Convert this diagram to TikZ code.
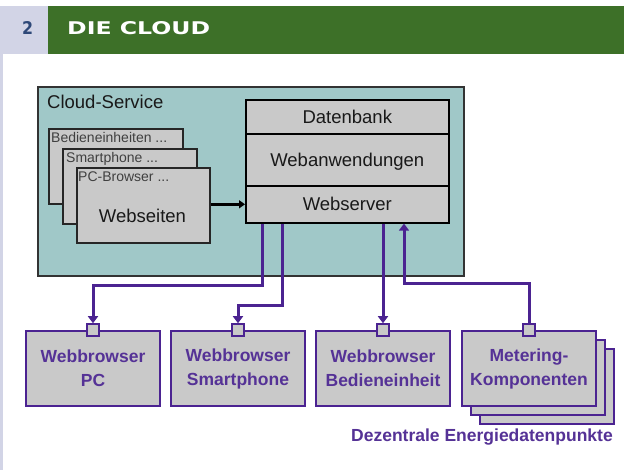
\documentclass[tikz,border=0pt]{standalone}
\usepackage{fontspec}
\usepackage{graphicx}
\setmainfont{Liberation Sans}
\newfontfamily\headfont{DejaVu Sans}
\usetikzlibrary{arrows.meta}
\definecolor{hgreen}{RGB}{61,112,40}
\definecolor{hlav}{RGB}{210,212,230}
\definecolor{hnum}{RGB}{46,72,120}
\definecolor{cloudfill}{RGB}{160,200,200}
\definecolor{boxgray}{RGB}{201,201,201}
\definecolor{purp}{RGB}{75,35,145}
\definecolor{purptext}{RGB}{85,50,150}
\begin{document}
\begin{tikzpicture}[x=1pt,y=-1pt,
  bigtxt/.style={font=\fontsize{18.5}{22}\selectfont, text=black!90},
  smalltxt/.style={font=\fontsize{14}{16}\selectfont, text=black!75, anchor=base west, inner sep=0pt},
  page/.style={draw=black!85, line width=1.6pt, fill=boxgray, anchor=north west, minimum width=134pt, minimum height=75pt, inner sep=0pt},
  srv/.style={draw=black, line width=1.6pt, fill=boxgray, anchor=north west, minimum width=203pt, inner sep=0pt, bigtxt, text height=13pt, text depth=0pt},
  pbox/.style={draw=purp, line width=2pt, fill=boxgray, inner sep=0pt, anchor=north west, minimum width=134pt, minimum height=75pt, text=purptext, font=\fontsize{17.5}{24}\selectfont\bfseries, align=center},
  port/.style={draw=purp, line width=1.5pt, fill=boxgray, minimum size=12pt, inner sep=0pt},
  plink/.style={draw=purp, line width=3pt, -{Triangle[length=7pt,width=10pt]}},
]
\useasboundingbox (0,0) rectangle (624,470);
\fill[white] (0,0) rectangle (624,470);
% header
\node[fill=hlav, anchor=north west, minimum width=48pt, minimum height=48pt, inner sep=0pt, outer sep=0pt] (numbox) at (0,6) {};
\node[fill=hgreen, anchor=north west, minimum width=576pt, minimum height=48pt, inner sep=0pt, outer sep=0pt] (hbar) at (48,6) {};
\node[fill=hlav, anchor=north west, minimum width=3pt, minimum height=416pt, inner sep=0pt, outer sep=0pt] (strip) at (0,54) {};
\node[anchor=base, inner sep=0pt, text=hnum] (num) at (27.5,35) {\resizebox{11pt}{13pt}{\headfont\bfseries 2}};
\node[anchor=base west, inner sep=0pt, text=white] (htitle) at (67,35) {\resizebox{143pt}{13pt}{\headfont\bfseries DIE CLOUD}};
% cloud
\node[draw=black!80, line width=2pt, fill=cloudfill, anchor=north west, minimum width=426pt, minimum height=189pt, inner sep=0pt] (cloud) at (37,86) {};
\node[bigtxt, anchor=base west, inner sep=0pt] (cloudlbl) at (47,109) {Cloud-Service};
% pages
\node[page] (pg1) at (48,128) {};
\node[smalltxt] (pg1lbl) at (51,143) {Bedieneinheiten ...};
\node[page] (pg2) at (62,148) {};
\node[smalltxt] (pg2lbl) at (66,163) {Smartphone ...};
\node[page, minimum width=133pt] (pg3) at (76,167) {};
\node[smalltxt] (pg3lbl) at (78,182) {PC-Browser ...};
\node[bigtxt, anchor=base, inner sep=0pt] (webseiten) at (142.5,223) {Webseiten};
% server stack
\node[srv, minimum height=34pt] (db) at (245,99) {Datenbank};
\node[srv, minimum height=52pt] (wa) at (245,133) {Webanwendungen};
\node[srv, minimum height=37pt] (ws) at (245,185) {Webserver};
\draw[line width=2.5pt, -{Triangle[length=6pt,width=8pt]}] (pg3.east |- ws.west) -- (ws.west);
% bottom boxes
\node[pbox] (pc) at (25,330) {Webbrowser\\PC};
\node[pbox] (sp) at (170,330) {Webbrowser\\Smartphone};
\node[pbox] (be) at (315,330) {Webbrowser\\Bedieneinheit};
\node[pbox] (mk3) at (479,348) {};
\node[pbox] (mk2) at (470,339) {};
\node[pbox] (mk) at (461,330) {Metering-\\Komponenten};
\node[port] (p1) at (pc.north) {};
\node[port] (p2) at (sp.north) {};
\node[port] (p3) at (be.north) {};
\node[port] (p4) at (mk.north) {};
% links
\draw[plink] ([xshift=17pt]ws.south west) -- ++(0,62) -| (p1.north);
\draw[plink] ([xshift=37pt]ws.south west) -- ++(0,82) -| (p2.north);
\draw[plink] (p3.north |- ws.south) -- (p3.north);
\draw[plink] (p4.north) -- ++(0,-40) -| ([xshift=159pt]ws.south west);
\node[anchor=base east, inner sep=0pt, text=purptext, font=\fontsize{17.5}{20}\selectfont\bfseries] (dez) at (613,441) {Dezentrale Energiedatenpunkte};
\end{tikzpicture}
\end{document}
